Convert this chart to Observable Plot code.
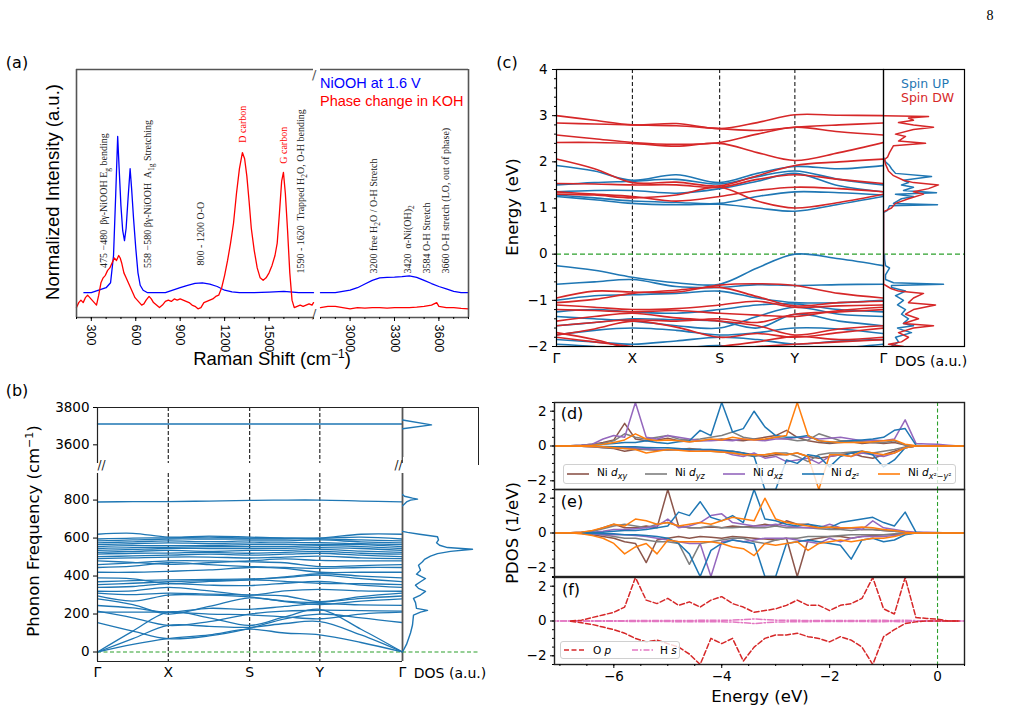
<!DOCTYPE html>
<html><head><meta charset="utf-8">
<script src="https://cdn.jsdelivr.net/npm/d3@7"></script>
<script src="https://cdn.jsdelivr.net/npm/@observablehq/plot@0.6"></script>
<style>
body{margin:0;background:#fff;}
#root{position:relative;width:1010px;height:713px;overflow:hidden;font-family:"DejaVu Sans";background:#fff;}
</style></head>
<body><div id="root"></div>
<script>
// ---------------- DATA ----------------
const ramanBlueLX = [250,300,350,400,430,450,465,478,488,500,512,524,535,548,562,572,585,600,615,630,650,680,750,800,850,900,950,1000,1050,1100,1150,1200,1250,1300,1400,1500,1600,1700,1800];
const ramanBlueLY = [0.10,0.10,0.11,0.12,0.14,0.25,0.5,0.73,0.6,0.45,0.35,0.31,0.36,0.48,0.6,0.52,0.4,0.28,0.18,0.13,0.11,0.10,0.10,0.10,0.11,0.12,0.13,0.138,0.14,0.135,0.125,0.11,0.103,0.10,0.10,0.102,0.105,0.10,0.10];
const ramanRedLX = [200,215,230,245,260,275,290,305,320,335,350,365,380,395,410,425,440,455,470,485,495,505,520,535,550,565,580,595,610,625,640,655,670,690,705,720,740,760,780,800,820,840,860,880,900,920,940,960,980,1000,1020,1040,1060,1080,1100,1120,1140,1160,1180,1200,1220,1240,1260,1280,1300,1320,1335,1350,1365,1380,1400,1420,1440,1460,1480,1500,1520,1540,1555,1570,1585,1597,1610,1625,1640,1655,1670,1690,1710,1730,1750,1770,1790,1800];
const ramanRedLY = [0.04,0.06,0.07,0.06,0.08,0.09,0.08,0.07,0.06,0.05,0.09,0.14,0.16,0.17,0.19,0.2,0.22,0.24,0.23,0.25,0.24,0.22,0.18,0.16,0.14,0.12,0.1,0.08,0.07,0.06,0.05,0.055,0.07,0.085,0.075,0.06,0.05,0.04,0.05,0.065,0.07,0.065,0.075,0.07,0.075,0.07,0.065,0.06,0.05,0.045,0.035,0.04,0.06,0.065,0.07,0.075,0.085,0.09,0.12,0.17,0.23,0.3,0.38,0.5,0.6,0.665,0.64,0.57,0.47,0.36,0.27,0.2,0.16,0.15,0.16,0.18,0.21,0.25,0.3,0.42,0.55,0.585,0.5,0.35,0.18,0.07,0.04,0.045,0.05,0.045,0.05,0.055,0.05,0.06];
const ramanBlueRX = [2800,2900,3000,3050,3100,3150,3200,3250,3300,3350,3400,3450,3500,3550,3600,3650,3700,3750,3800];
const ramanBlueRY = [0.10,0.10,0.11,0.12,0.135,0.15,0.16,0.162,0.163,0.165,0.168,0.162,0.15,0.137,0.125,0.115,0.105,0.10,0.10];
const ramanRedRX = [2800,2850,2900,2950,3000,3050,3100,3150,3200,3250,3300,3350,3400,3450,3500,3550,3585,3600,3650,3700,3750,3800];
const ramanRedRY = [0.04,0.045,0.045,0.04,0.035,0.04,0.038,0.04,0.04,0.038,0.04,0.04,0.04,0.042,0.045,0.05,0.06,0.045,0.04,0.04,0.037,0.035];
const ramanTicksL = [300,600,900,1200,1500];
const ramanTicksR = [3000,3300,3600];
const annotLX = [382,679,1037,1320,1597,1712];
const annotLY = [0.20,0.20,0.21,0.705,0.62,0.177];
const annotLText = ["475 −480  βγ-NiOOH E_{g} bending","558 −580 βγ-NiOOH  A_{1g} Stretching","800 - 1200 O-O","D carbon","G carbon","1590 - 1620  Trapped H_{2}O, O-H bending"];
const annotLColor = ["#222","#222","#222","#ff0000","#ff0000","#222"];
const annotRX = [3158,3388,3517,3645];
const annotRY = [0.177,0.177,0.177,0.177];
const annotRText = ["3200 free H_{2}O / O-H Stretch","3420  α-Ni(OH)_{2}","3584 O-H Stretch","3660 O-H stretch (LO, out of phase)"];

const kPts = [0,0.116,0.232,0.366,0.499,0.614,0.729,0.864,1.0];
const kTicks = [0,0.232,0.499,0.729,1.0];
const kLabels = ["Γ","X","S","Y","Γ"];
const kLines = [0.232,0.499,0.729];

const phononLow = [
[0,40,70,90,120,100,90,50,0],
[0,70,140,135,130,150,160,90,0],
[0,110,210,180,140,185,225,120,0],
[155,110,70,85,125,175,200,180,155],
[210,210,210,200,195,185,175,200,210],
[215,180,140,160,200,215,220,218,215],
[245,232,210,230,225,240,255,248,245],
[280,250,200,240,285,265,250,268,280],
[295,268,300,300,290,268,262,282,295],
[310,302,310,305,300,295,265,292,310],
[320,322,340,322,300,322,330,322,320],
[340,345,360,352,350,362,372,352,340],
[355,362,370,376,380,372,362,360,355],
[370,376,380,382,385,392,405,386,370],
[390,385,360,372,380,395,412,400,390],
[420,420,425,432,445,440,420,420,420],
[445,452,470,460,450,445,440,445,445],
[460,470,480,480,475,470,450,455,460],
[480,472,462,470,480,490,482,480,480],
[492,496,500,500,495,500,505,496,492],
[502,506,510,515,510,515,520,510,502],
[515,520,521,525,520,525,530,520,515],
[525,530,535,530,535,535,540,531,525],
[535,540,545,545,545,546,550,545,535],
[545,550,551,555,555,555,560,555,545],
[555,560,560,561,565,565,566,565,555],
[565,570,575,571,575,575,576,570,565],
[575,580,585,581,585,585,590,580,575],
[585,590,595,595,595,595,596,590,585],
[595,600,601,605,600,600,600,605,595],
[620,625,605,610,605,600,600,620,620],
[790,792,792,795,798,800,800,795,790]
];
const phononHigh = [[3712,3712,3712,3712,3712,3712,3712,3712,3712]];
const phDosF = [0,40,100,142,194,210,219,230,260,282,300,319,335,352,370,387,410,430,457,475,488,505,518,530,541,550,562,575,590,607,620,630,635];
const phDosV = [0,4,8,10,11,18,25,14,13,11,18,23,16,13,18,23,14,18,16,20,22,28,35,48,70,45,37,34,36,35,17,5,0];
const phDos800F = [770,780,790,800,805,810,820,830];
const phDos800V = [0,2,4,8,15,10,2,0];
const phDosHighF = [3686,3707,3733];
const phDosHighV = [0,29,0];

const bandsUp = [
[1.92,1.80,1.60,1.72,1.55,1.75,1.90,1.85,1.92],
[1.50,1.55,1.58,1.62,1.52,1.68,1.80,1.62,1.50],
[1.35,1.38,1.38,1.32,1.42,1.58,1.75,1.48,1.35],
[1.28,1.22,1.15,1.12,1.10,1.25,1.35,1.33,1.28],
[1.25,1.18,1.10,1.07,1.08,1.00,0.93,1.08,1.25],
[-0.25,-0.35,-0.50,-0.62,-0.65,-0.30,0.00,-0.10,-0.25],
[-0.65,-0.60,-0.55,-0.70,-0.72,-0.66,-0.68,-0.66,-0.65],
[-1.00,-0.90,-0.88,-0.85,-0.80,-0.95,-1.05,-1.05,-1.00],
[-1.25,-1.20,-1.25,-1.28,-1.20,-1.10,-1.08,-1.20,-1.25],
[-1.35,-1.40,-1.45,-1.55,-1.60,-1.35,-1.15,-1.30,-1.35],
[-1.55,-1.48,-1.40,-1.42,-1.45,-1.60,-1.30,-1.45,-1.55],
[-1.75,-1.65,-1.60,-1.65,-1.75,-1.70,-1.60,-1.62,-1.72],
[-1.85,-1.90,-1.95,-1.88,-1.80,-1.85,-1.95,-1.88,-1.85],
[-1.95,-2.00,-2.10,-2.05,-1.98,-2.10,-2.20,-2.05,-1.95]
];
const bandsDn = [
[3.00,2.90,2.80,2.83,2.72,2.85,3.02,3.01,3.00],
[2.84,2.82,2.80,2.78,2.72,2.68,2.75,2.80,2.84],
[2.58,2.50,2.42,2.38,2.42,2.60,2.75,2.65,2.58],
[2.42,2.42,2.40,2.34,2.40,2.20,2.03,2.20,2.42],
[2.06,1.85,1.55,1.56,1.48,1.70,1.92,2.00,2.06],
[1.53,1.52,1.50,1.50,1.45,1.62,1.72,1.62,1.53],
[1.35,1.30,1.25,1.15,1.25,1.38,1.45,1.42,1.35],
[1.30,1.28,1.22,1.28,1.45,1.15,1.00,1.12,1.30],
[-0.95,-0.80,-0.82,-0.82,-0.67,-0.64,-0.68,-0.85,-0.95],
[-1.05,-0.98,-0.85,-0.78,-0.72,-0.92,-1.12,-1.05,-1.02],
[-1.10,-1.15,-1.20,-1.18,-1.10,-1.02,-1.15,-1.12,-1.10],
[-1.20,-1.22,-1.25,-1.22,-1.28,-1.32,-1.35,-1.22,-1.15],
[-1.45,-1.35,-1.28,-1.38,-1.45,-1.55,-1.75,-1.62,-1.55],
[-1.55,-1.48,-1.42,-1.45,-1.40,-1.48,-1.30,-1.25,-1.20],
[-1.75,-1.62,-1.45,-1.58,-1.80,-1.72,-1.80,-1.70,-1.60],
[-1.80,-1.90,-2.00,-2.10,-2.00,-1.90,-1.78,-1.85,-1.80],
[-1.70,-1.85,-2.05,-2.15,-2.05,-2.00,-1.95,-1.90,-1.85]
];
const dosUpE = [-2.0,-1.9,-1.8,-1.7,-1.65,-1.6,-1.55,-1.5,-1.4,-1.3,-1.2,-1.1,-1.0,-0.9,-0.8,-0.72,-0.68,-0.65,-0.62,-0.55,-0.45,-0.3,-0.25,-0.1,-0.02,0.0,0.9,0.95,1.05,1.07,1.1,1.2,1.25,1.3,1.33,1.38,1.45,1.5,1.55,1.6,1.68,1.75,1.85,1.92,2.0,2.1];
const dosUpV = [8,15,12,28,20,14,30,20,25,18,22,14,20,12,22,8,8,60,10,2,2,6,2,1,1,0,0,4,6,54,10,18,30,12,53,20,30,18,25,20,48,12,8,6,2,0];
const dosDnE = [-2.0,-1.95,-1.9,-1.8,-1.7,-1.6,-1.55,-1.5,-1.4,-1.3,-1.2,-1.1,-1.05,-0.95,-0.85,-0.8,-0.75,-0.7,-0.65,0.92,0.95,1.0,1.1,1.2,1.3,1.35,1.42,1.5,1.55,1.6,1.7,1.8,1.95,2.05,2.1,2.2,2.35,2.4,2.45,2.55,2.6,2.7,2.75,2.8,2.85,2.9,2.95,2.98,3.0];
const dosDnV = [20,5,18,25,15,30,50,20,35,22,30,52,25,30,40,15,8,4,0,0,3,8,12,25,40,30,45,55,30,20,10,5,2,1,4,6,10,42,15,22,12,30,50,30,15,30,25,45,0];

const pdosE = [-7.2,-7.0,-6.8,-6.6,-6.4,-6.2,-6.0,-5.8,-5.6,-5.4,-5.2,-5.0,-4.8,-4.6,-4.4,-4.2,-4.0,-3.8,-3.6,-3.4,-3.2,-3.0,-2.8,-2.6,-2.4,-2.2,-2.0,-1.8,-1.6,-1.4,-1.2,-1.0,-0.8,-0.6,-0.4,-0.2,0.0,0.2,0.4,0.6];
const dxyUp = [0,0, 0.02,0.05,0.1,0.2,0.35, 1.3,0.4,0.3,0.35,0.45, 0.3,0.25,0.3,0.35,0.4, 0.35,0.3,0.4,0.5,0.6, 0.9,0.5,0.3,0.2,0.15, 0.2,0.25,0.15,0.2,0.15, 0.2,0.05,0,0,0, 0,0, 0];
const dyzUp = [0,0, 0.02,0.05,0.1,0.15,0.3, 0.7,0.5,0.4,0.5,0.6, 0.4,0.35,0.4,0.5,0.6, 0.8,0.5,0.4,0.35,0.5, 0.4,0.3,0.35,0.7,0.5, 0.3,0.3,0.25,0.2,0.2, 0.3,0.05,0.02,0,0, 0,0, 0];
const dxzUp = [0,0, 0.02,0.05,0.1,0.4,0.6, 0.5,2.5,0.5,0.4,0.6, 0.5,0.4,0.3,0.3,0.35, 0.3,0.4,0.35,0.3,0.4, 0.4,0.5,0.5,0.4,0.45, 0.5,0.4,0.3,0.35,0.3, 0.4,1.5,0.15,0.12,0.1, 0.05,0, 0];
const dz2Up = [0,0, 0,0.02,0.05,0.1,0.15, 0.2,0.2,0.3,0.2,0.15, 0.25,0.3,0.9,0.6,2.5, 0.8,1.0,2.0,1.1,0.6, 0.5,0.5,0.6,0.3,0.2, 0.25,0.3,0.35,0.4,0.5, 0.9,1.0,0.05,0,0, 0,0, 0];
const dx2Up = [0,0, 0,0.02,0.05,0.1,0.2, 0.35,0.7,0.4,0.3,0.35, 0.3,0.25,0.3,0.4,0.35, 0.5,0.4,0.35,0.4,0.5, 0.6,2.5,0.6,0.3,0.25, 0.2,0.2,0.2,0.25,0.3, 0.35,0.1,0.02,0,0, 0,0, 0];
const dxyDn = [0,0, 0,-0.02,-0.05,-0.1,-0.15, -0.3,-0.2,-0.2,-0.25,-0.2, -0.2,-0.15,-0.2,-0.3,-0.35, -0.3,-0.4,-0.5,-0.6,-0.5, -0.5,-0.4,-0.6,-0.7,-0.6, -0.5,-0.4,-0.6,-0.7,-0.5, -0.3,-0.1,0,0,0, 0,0, 0];
const dyzDn = [0,0, 0,-0.02,-0.05,-0.08,-0.1, -0.15,-0.15,-0.2,-0.2,-0.25, -0.2,-0.2,-0.2,-0.25,-0.3, -0.4,-0.5,-0.6,-0.5,-0.4, -0.4,-0.6,-0.9,-0.5,-0.4, -0.4,-0.35,-0.3,-0.4,-0.3, -0.2,-0.05,0,0,0, 0,0, 0];
const dxzDn = [0,0, 0,-0.01,-0.03,-0.05,-0.08, -0.1,-0.1,-0.15,-0.2,-0.2, -0.2,-0.25,-0.2,-0.3,-0.3, -0.5,-0.6,-0.4,-0.7,-0.6, -0.9,-0.8,-0.7,-1.0,-0.6, -0.5,-0.6,-0.4,-0.5,-0.6, -0.4,-0.1,0,0,0, 0,0, 0];
const dz2Dn = [0,0, 0,0,-0.02,-0.03,-0.05, -0.05,-0.05,-0.08,-0.1,-0.1, -0.15,-0.2,-0.2,-0.2,-0.25, -0.3,-0.4,-0.6,-2.5,-2.5, -0.8,-1.0,-0.5,-0.6,-1.2, -0.6,-0.4,-0.3,-0.5,-1.2, -0.8,-0.1,0,0,0, 0,0, 0];
const dx2Dn = [0,0, 0,-0.01,-0.03,-0.05,-0.1, -0.15,-0.2,-0.4,-0.3,-0.2, -0.25,-0.3,-0.3,-0.3,-0.35, -0.4,-0.5,-0.5,-0.5,-0.4, -0.5,-0.4,-0.6,-2.5,-0.5, -0.5,-0.6,-0.3,-0.4,-0.5, -0.4,-0.1,0,0,0, 0,0, 0];
const exyUp = [0,0, 0.02,0.05,0.1,0.3,0.5, 0.3,0.3,0.4,0.3,2.5, 0.4,0.3,0.3,0.35,0.3, 0.4,0.35,0.4,0.5,0.4, 0.7,0.5,0.5,0.3,0.3, 0.25,0.3,0.2,0.2,0.15, 0.1,0.05,0,0,0, 0,0, 0];
const eyzUp = [0,0, 0.02,0.05,0.1,0.25,0.4, 0.5,0.4,0.3,0.5,0.6, 0.4,0.3,0.3,0.4,0.3, 0.3,0.35,0.3,0.3,0.4, 0.3,0.3,0.3,0.25,0.2, 0.2,0.15,0.2,0.2,0.15, 0.1,0.05,0,0,0, 0,0, 0];
const exzUp = [0,0, 0.02,0.03,0.05,0.1,0.2, 0.2,0.25,0.3,0.4,0.8, 0.3,0.4,0.6,1.0,1.1, 0.6,0.5,0.4,0.4,0.5, 0.4,0.35,0.3,0.3,0.5, 0.3,0.3,0.2,0.7,0.3, 0.2,0.1,0.05,0.05,0.03, 0,0, 0];
const ez2Up = [0,0, 0,0.02,0.03,0.05,0.1, 0.15,0.15,0.2,0.3,0.4, 1.2,1.0,1.8,0.9,0.7, 1.0,0.6,2.5,0.8,0.7, 0.5,0.4,0.5,0.4,0.3, 0.6,0.7,0.8,0.9,0.6, 0.4,1.2,0.05,0,0, 0,0, 0];
const ex2Up = [0,0, 0.02,0.05,0.15,0.3,0.5, 0.4,0.8,0.7,0.5,0.6, 0.4,0.5,0.6,0.5,0.7, 0.9,0.8,0.7,2.0,0.8, 0.6,0.5,0.4,0.3,0.35, 0.3,0.3,0.35,0.3,0.2, 0.15,0.05,0,0,0, 0,0, 0];
const exyDn = [0,0, 0,-0.03,-0.1,-0.2,-0.3, -0.5,-0.6,-1.7,-0.4,-0.3, -0.2,-0.3,-0.2,-0.25,-0.3, -0.2,-0.25,-0.3,-0.35,-0.4, -0.3,-2.5,-0.4,-0.3,-0.2, -0.2,-0.3,-0.2,-0.15,-0.1, -0.1,-0.05,0,0,0, 0,0, 0];
const eyzDn = [0,0, 0,-0.02,-0.05,-0.1,-0.2, -0.3,-0.3,-0.4,-0.5,-0.5, -0.6,-1.8,-0.6,-0.5,-0.4, -0.3,-0.3,-0.5,-0.6,-0.4, -0.3,-0.3,-0.2,-0.2,-0.2, -0.15,-0.1,-0.1,-0.1,-0.1, -0.05,-0.02,0,0,0, 0,0, 0];
const exzDn = [0,0, 0,-0.02,-0.05,-0.1,-0.1, -0.1,-0.15,-0.2,-0.3,-0.4, -0.5,-0.6,-0.6,-2.5,-0.5, -0.4,-0.5,-0.4,-0.3,-0.3, -0.3,-0.4,-0.5,-0.6,-0.3, -0.5,-0.3,-0.2,-0.2,-0.2, -0.15,-0.05,0,0,0, 0,0, 0];
const ez2Dn = [0,0, 0,-0.01,-0.02,-0.05,-0.05, -0.1,-0.1,-0.15,-0.2,-0.3, -0.6,-1.2,-2.5,-1.0,-0.6, -0.4,-0.5,-0.6,-2.5,-2.5, -0.6,-0.5,-0.4,-0.5,-0.6, -0.7,-1.5,-0.4,-0.3,-0.5, -0.4,-0.1,0,0,0, 0,0, 0];
const ex2Dn = [0,0, 0,-0.05,-0.15,-0.3,-0.6, -1.2,-0.8,-0.6,-1.2,-0.4, -0.5,-0.5,-0.5,-0.5,-0.6, -0.8,-0.9,-1.3,-0.6,-0.7, -0.6,-0.5,-1.0,-0.6,-0.5, -0.4,-0.5,-0.4,-0.3,-0.3, -0.2,-0.05,0,0,0, 0,0, 0];
const opUp = [null,null, 0,0.05,0.2,0.35,0.5, 0.8,2.5,1.2,1.0,1.3, 0.9,1.1,0.8,1.2,1.4, 1.0,0.8,0.5,0.6,0.7, 0.9,1.2,0.9,0.9,0.6, 0.9,1.0,1.3,2.5,0.7, 0.4,2.5,0.2,0.15,0.1, 0,0, null];
const opDn = [null,null, -0.02,-0.1,-0.2,-0.35,-0.5, -0.7,-1.0,-1.2,-1.1,-1.3, -1.5,-1.9,-2.5,-1.0,-1.3, -1.0,-2.3,-1.5,-1.0,-0.8, -0.8,-0.7,-0.9,-1.0,-1.2, -0.9,-1.1,-1.5,-2.5,-0.9, -0.5,-0.15,-0.05,0,0, 0,0, null];
const hsUp = [0,0, 0,0,0.01,0.01,0.02, 0.02,0.03,0.03,0.03,0.03, 0.03,0.03,0.04,0.04,0.04, 0.05,0.08,0.12,0.08,0.05, 0.04,0.04,0.03,0.03,0.03, 0.03,0.03,0.03,0.04,0.04, 0.03,0.05,0.02,0.01,0.01, 0,0, 0];
const hsDn = [0,0, 0,0,-0.01,-0.01,-0.02, -0.02,-0.03,-0.03,-0.03,-0.03, -0.05,-0.04,-0.04,-0.04,-0.05, -0.06,-0.1,-0.15,-0.1,-0.06, -0.05,-0.04,-0.04,-0.03,-0.03, -0.03,-0.03,-0.03,-0.04,-0.04, -0.03,-0.05,-0.02,-0.01,-0.01, 0,0, 0];

// ---------------- HELPERS ----------------
const root = document.getElementById("root");
const C = {blue:"#1f77b4", orange:"#ff7f0e", green:"#2ca02c", red:"#d62728", purple:"#9467bd", brown:"#8c564b", pink:"#e377c2", gray:"#7f7f7f"};
const fmt = d => (d < 0 ? "−" + Math.abs(d) : String(d));
const pts = (xs, ys) => xs.map((x, i) => ({x, y: ys[i]}));
const bandTable = bands => bands.flatMap((vals, b) => vals.map((v, i) => ({k: kPts[i], v, b})));
const kFmt = d => kLabels[kTicks.indexOf(d)];

function mk(fx, fy, fw, fh, opts, hidden) {
  const svg = Plot.plot({width: fw, height: fh, marginTop: 0, marginRight: 0, marginBottom: 0, marginLeft: 0, ...opts});
  Object.assign(svg.style, {position: "absolute", left: fx + "px", top: fy + "px", overflow: hidden ? "hidden" : "visible", background: "transparent", fontFamily: "DejaVu Sans", fontSize: "13px", color: "#000", maxWidth: "none"});
  root.appendChild(svg);
  return svg;
}
function txt(html, x, y, size, o = {}) {
  const d = document.createElement("div");
  d.innerHTML = html;
  const anchor = o.anchor || "center";
  const tx = anchor === "left" ? "0" : "-50%";
  Object.assign(d.style, {position: "absolute", left: x + "px", top: y + "px", fontSize: size + "px", whiteSpace: "nowrap", lineHeight: "1",
    fontFamily: o.font || "DejaVu Sans", color: o.color || "#000",
    transform: `translate(${tx},-50%)` + (o.rot ? ` rotate(${o.rot}deg)` : "")});
  root.appendChild(d);
  return d;
}
function subs(svg) {
  svg.querySelectorAll("text").forEach(t => {
    const s = t.textContent;
    if (s.includes("_{")) t.innerHTML = s.replace(/_\{([^}]*)\}/g, '<tspan baseline-shift="-3" font-size="7.5">$1</tspan>');
  });
}
function sample(x1, x2, y, color, dash) {
  const d = document.createElement("div");
  const w = x2 - x1;
  d.innerHTML = `<svg width="${w}" height="4" style="display:block"><line x1="0" y1="2" x2="${w}" y2="2" stroke="${color}" stroke-width="1.6" ${dash ? `stroke-dasharray="${dash}"` : ""}/></svg>`;
  Object.assign(d.style, {position: "absolute", left: x1 + "px", top: (y - 2) + "px"});
  root.appendChild(d);
}
function box(x, y, w, h, style) {
  const d = document.createElement("div");
  Object.assign(d.style, {position: "absolute", left: x + "px", top: y + "px", width: w + "px", height: h + "px", boxSizing: "border-box"}, style);
  root.appendChild(d);
}

// ---------------- PANEL (a) ----------------
const fa = "#555";
const annL = annotLX.map((x, i) => ({x, y: annotLY[i], t: annotLText[i], c: annotLColor[i]}));
const annR = annotRX.map((x, i) => ({x, y: annotRY[i], t: annotRText[i]}));
const aL = mk(76, 69, 237, 248, {
  x: {domain: [200, 1800]}, y: {domain: [0, 1], axis: null},
  marks: [
    Plot.line(pts(ramanBlueLX, ramanBlueLY), {x: "x", y: "y", stroke: "#0000ff", strokeWidth: 1.3}),
    Plot.line(pts(ramanRedLX, ramanRedLY), {x: "x", y: "y", stroke: "#ff0000", strokeWidth: 1.3}),
    Plot.ruleY([0, 1], {stroke: fa, strokeWidth: 1.6}),
    Plot.ruleX([200], {stroke: fa, strokeWidth: 1.6}),
    Plot.axisX({ticks: ramanTicksL, tickFormat: fmt, tickRotate: 90, tickSize: 4, tickPadding: 3, fontSize: 12.5, fontFamily: "Liberation Sans", label: null}),
    Plot.axisX({ticks: d3.range(200, 1801, 100), tickFormat: () => "", tickSize: 2, label: null}),
    Plot.text(annL, {x: "x", y: "y", text: "t", fill: "c", rotate: -90, textAnchor: "start", fontFamily: "Liberation Serif", fontSize: 10}),
    Plot.text(["/"], {frameAnchor: "top-right", dx: 3, fontSize: 13, fill: fa}),
    Plot.text(["/"], {frameAnchor: "bottom-right", dx: 3, fontSize: 13, fill: fa})
  ]
});
subs(aL);
const aR = mk(320, 69, 148, 248, {
  x: {domain: [2800, 3800]}, y: {domain: [0, 1], axis: null},
  marks: [
    Plot.line(pts(ramanBlueRX, ramanBlueRY), {x: "x", y: "y", stroke: "#0000ff", strokeWidth: 1.3}),
    Plot.line(pts(ramanRedRX, ramanRedRY), {x: "x", y: "y", stroke: "#ff0000", strokeWidth: 1.3}),
    Plot.ruleY([0, 1], {stroke: fa, strokeWidth: 1.6}),
    Plot.ruleX([3800], {stroke: fa, strokeWidth: 1.6}),
    Plot.axisX({ticks: ramanTicksR, tickFormat: fmt, tickRotate: 90, tickSize: 4, tickPadding: 3, fontSize: 12.5, fontFamily: "Liberation Sans", label: null}),
    Plot.axisX({ticks: d3.range(2800, 3801, 100), tickFormat: () => "", tickSize: 2, label: null}),
    Plot.text(annR, {x: "x", y: "y", text: "t", fill: "#222", rotate: -90, textAnchor: "start", fontFamily: "Liberation Serif", fontSize: 10})
  ]
});
subs(aR);
txt("(a)", 17, 63, 16);
txt("Normalized Intensity (a.u.)", 53, 192, 18.5, {font: "Liberation Sans", rot: -90});
txt("Raman Shift (cm<sup style='font-size:12px'>−1</sup>)", 272, 358, 18.5, {font: "Liberation Sans"});
txt("NiOOH at 1.6 V", 320, 83, 14.5, {font: "Liberation Sans", color: "#0000ff", anchor: "left"});
txt("Phase change in KOH", 320, 101, 14.5, {font: "Liberation Sans", color: "#ff0000", anchor: "left"});

// ---------------- PANEL (b) ----------------
const fb = "#222";
mk(97, 407, 305, 56, {
  x: {domain: [0, 1], axis: null}, y: {domain: [3500, 3800]},
  marks: [
    Plot.ruleX(kLines, {stroke: "#000", strokeDasharray: "4,2", strokeWidth: 1}),
    Plot.line(bandTable(phononHigh), {x: "k", y: "v", z: "b", stroke: C.blue, strokeWidth: 1.4}),
    Plot.ruleY([3800], {stroke: fb, strokeWidth: 1.2}),
    Plot.ruleX([0], {stroke: fb, strokeWidth: 1.2}),
    Plot.ruleX([1], {stroke: "#555", strokeWidth: 1.8}),
    Plot.axisY({ticks: [3600, 3800], tickFormat: fmt, tickSize: 4, tickPadding: 4, fontSize: 13.5, label: null}),
    Plot.text(["//"], {frameAnchor: "bottom-left", dy: 5, fontSize: 12, fill: fb}),
    Plot.text(["//"], {frameAnchor: "bottom-right", dy: 5, fontSize: 12, fill: fb})
  ]
});
mk(97, 473, 305, 188, {
  x: {domain: [0, 1]}, y: {domain: [-50, 940]},
  marks: [
    Plot.ruleX(kLines, {stroke: "#000", strokeDasharray: "4,2", strokeWidth: 1}),
    Plot.ruleY([0], {stroke: C.green, strokeDasharray: "4,2.5", strokeWidth: 1.1}),
    Plot.line(bandTable(phononLow), {x: "k", y: "v", z: "b", stroke: C.blue, strokeWidth: 1.3, curve: "catmull-rom", clip: true}),
    Plot.ruleY([-50], {stroke: fb, strokeWidth: 1.2}),
    Plot.ruleX([0], {stroke: fb, strokeWidth: 1.2}),
    Plot.ruleX([1], {stroke: "#555", strokeWidth: 1.8}),
    Plot.axisY({ticks: [0, 200, 400, 600, 800], tickFormat: fmt, tickSize: 4, tickPadding: 4, fontSize: 13.5, label: null}),
    Plot.axisX({ticks: kTicks, tickFormat: kFmt, tickSize: 0, tickPadding: 6, fontSize: 14, label: null})
  ]
});
mk(402, 407, 76, 56, {
  x: {domain: [0, 76], axis: null}, y: {domain: [3500, 3800], axis: null},
  marks: [
    Plot.line(pts(phDosHighV, phDosHighF), {x: "x", y: "y", stroke: C.blue, strokeWidth: 1.4, clip: true})
  ]
}, true);
mk(402, 473, 76, 188, {
  x: {domain: [0, 76], axis: null}, y: {domain: [-50, 940], axis: null},
  marks: [
    Plot.ruleY([0], {stroke: C.green, strokeDasharray: "4,2.5", strokeWidth: 1.1}),
    Plot.line(pts(phDosV, phDosF), {x: "x", y: "y", stroke: C.blue, strokeWidth: 1.4, clip: true}),
    Plot.line(pts(phDos800V, phDos800F), {x: "x", y: "y", stroke: C.blue, strokeWidth: 1.4, clip: true})
  ]
}, true);
box(403, 457, 74, 14, {background: "#fff"});
box(402, 407, 77, 58, {borderTop: "1.2px solid #222", borderRight: "1px solid #222"});
txt("(b)", 17, 391, 16);
txt("Phonon Frequency (cm<sup style='font-size:11px'>−1</sup>)", 33, 531, 16.5, {rot: -90});
txt("DOS (a.u.)", 450, 673, 14);

// ---------------- PANEL (c) ----------------
mk(556, 69, 327, 277, {
  x: {domain: [0, 1]}, y: {domain: [-2, 4]},
  marks: [
    Plot.ruleX(kLines, {stroke: "#000", strokeDasharray: "4,2.5", strokeWidth: 1}),
    Plot.ruleY([0], {stroke: C.green, strokeDasharray: "5,3", strokeWidth: 1.3}),
    Plot.line(bandTable(bandsUp), {x: "k", y: "v", z: "b", stroke: C.blue, strokeWidth: 1.6, curve: "catmull-rom", clip: true}),
    Plot.line(bandTable(bandsDn), {x: "k", y: "v", z: "b", stroke: C.red, strokeWidth: 1.6, curve: "catmull-rom", clip: true}),
    Plot.frame({stroke: "#000", strokeWidth: 1.2}),
    Plot.axisY({ticks: [-2, -1, 0, 1, 2, 3, 4], tickFormat: fmt, tickSize: 4, tickPadding: 5, fontSize: 13.5, label: null}),
    Plot.axisY({ticks: d3.range(-2, 4.01, 0.2), tickFormat: () => "", tickSize: 2, label: null}),
    Plot.axisX({ticks: kTicks, tickFormat: kFmt, tickSize: 0, tickPadding: 7, fontSize: 14, label: null})
  ]
});
mk(883, 69, 81, 277, {
  x: {domain: [0, 81], axis: null}, y: {domain: [-2, 4], axis: null},
  marks: [
    Plot.ruleY([0], {stroke: C.green, strokeDasharray: "5,3", strokeWidth: 1.3}),
    Plot.line(pts(dosUpV, dosUpE), {x: "x", y: "y", stroke: C.blue, strokeWidth: 1.5, clip: true}),
    Plot.line(pts(dosDnV, dosDnE), {x: "x", y: "y", stroke: C.red, strokeWidth: 1.5, clip: true}),
    Plot.frame({stroke: "#000", strokeWidth: 1.2})
  ]
});
txt("(c)", 507, 63, 16);
txt("Energy (eV)", 513, 207, 16.5, {rot: -90});
txt("DOS (a.u.)", 931, 361, 14);
txt("Spin UP", 901, 84, 12.5, {color: C.blue, anchor: "left"});
txt("Spin DW", 901, 98, 12.5, {color: C.red, anchor: "left"});

// ---------------- PANELS (d)(e)(f) ----------------
const orbD = [[dxyUp, dxyDn, C.brown], [dyzUp, dyzDn, C.gray], [dxzUp, dxzDn, C.purple], [dz2Up, dz2Dn, C.blue], [dx2Up, dx2Dn, C.orange]];
const orbE = [[exyUp, exyDn, C.brown], [eyzUp, eyzDn, C.gray], [exzUp, exzDn, C.purple], [ez2Up, ez2Dn, C.blue], [ex2Up, ex2Dn, C.orange]];
const pdosLine = (arr, color, extra = {}) => Plot.line(pts(pdosE, arr), {x: "x", y: "y", stroke: color, strokeWidth: 1.5, clip: true, ...extra});
function pdosPanel(top, lineMarks, withX) {
  return mk(554, top, 410, 87, {
    x: {domain: [-7.1, 0.5]}, y: {domain: [-2.5, 2.5]},
    marks: [
      Plot.ruleX([0], {stroke: C.green, strokeDasharray: "4,2.5", strokeWidth: 1.1}),
      ...lineMarks,
      Plot.frame({stroke: "#222", strokeWidth: 1.4}),
      Plot.axisY({ticks: [-2, 0, 2], tickFormat: fmt, tickSize: 4, tickPadding: 4, fontSize: 13.5, label: null}),
      Plot.axisY({ticks: d3.range(-2.5, 2.51, 0.5), tickFormat: () => "", tickSize: 2, label: null}),
      ...(withX ? [
        Plot.axisX({ticks: [-6, -4, -2, 0], tickFormat: fmt, tickSize: 4, tickPadding: 3, fontSize: 13.5, label: null}),
        Plot.axisX({ticks: d3.range(-7, 0.51, 0.5), tickFormat: () => "", tickSize: 2, label: null})
      ] : [Plot.axisX({ticks: [], label: null})])
    ]
  });
}
pdosPanel(402, orbD.flatMap(([u, d, c]) => [pdosLine(u, c), pdosLine(d, c)]), false);
pdosPanel(489, orbE.flatMap(([u, d, c]) => [pdosLine(u, c), pdosLine(d, c)]), false);
pdosPanel(577, [
  pdosLine(hsUp, C.pink, {strokeDasharray: "6,2,1.5,2"}),
  pdosLine(hsDn, C.pink, {strokeDasharray: "6,2,1.5,2"}),
  pdosLine(opUp, C.red, {strokeDasharray: "5,2.5"}),
  pdosLine(opDn, C.red, {strokeDasharray: "5,2.5"})
], true);
txt("(d)", 572, 414, 16);
txt("(e)", 572, 502, 16);
txt("(f)", 571, 590, 16);
txt("PDOS (1/eV)", 513, 533, 16.5, {rot: -90});
txt("Energy (eV)", 760, 697, 16.5);

const legStyle = {border: "1px solid #d0d0d0", borderRadius: "3px", background: "rgba(255,255,255,0.8)"};
box(563, 464, 393, 20, legStyle);
const legD = [
  [C.brown, "Ni <i>d</i><sub style='font-size:8px'><i>xy</i></sub>", 567, 597],
  [C.gray, "Ni <i>d</i><sub style='font-size:8px'><i>yz</i></sub>", 645, 675],
  [C.purple, "Ni <i>d</i><sub style='font-size:8px'><i>xz</i></sub>", 723, 753],
  [C.blue, "Ni <i>d</i><sub style='font-size:8px'><i>z</i>²</sub>", 802, 831],
  [C.orange, "Ni <i>d</i><sub style='font-size:8px'><i>x</i>²<i>−y</i>²</sub>", 878, 908]
];
legD.forEach(([c, h, x1, tx]) => { sample(x1, x1 + 22, 474, c); txt(h, tx, 474, 10.5, {anchor: "left"}); });
box(560, 641, 120, 18, legStyle);
sample(564, 586, 650, C.red, "5,2.5"); txt("O <i>p</i>", 593, 650, 10.5, {anchor: "left"});
sample(632, 654, 650, C.pink, "6,2,1.5,2"); txt("H <i>s</i>", 660, 650, 10.5, {anchor: "left"});

txt("8", 990, 16, 14, {font: "Liberation Serif"});
</script>
</body></html>
